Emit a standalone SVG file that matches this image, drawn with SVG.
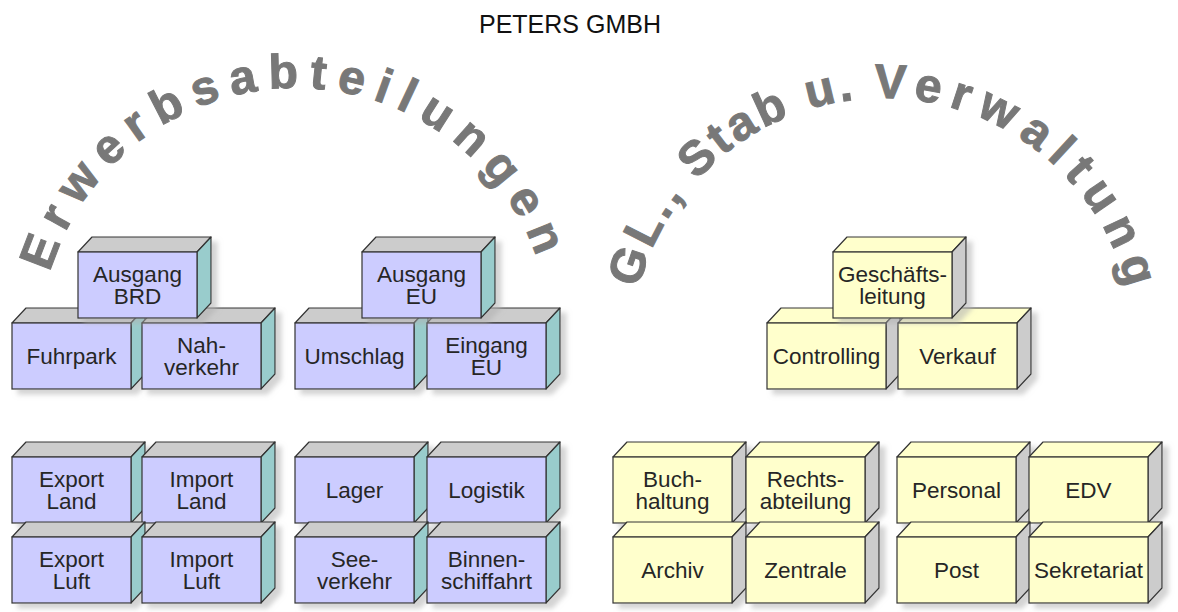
<svg xmlns="http://www.w3.org/2000/svg" width="1178" height="612" viewBox="0 0 1178 612">
<style>
.fp{fill:#ccccff;stroke:#333;stroke-width:1.2}
.tp{fill:#cccccc;stroke:#333;stroke-width:1.2;stroke-linejoin:round}
.sp{fill:#99cccc;stroke:#333;stroke-width:1.2;stroke-linejoin:round}
.fy{fill:#ffffcc;stroke:#333;stroke-width:1.2}
.ty{fill:#ffffcc;stroke:#333;stroke-width:1.2;stroke-linejoin:round}
.sy{fill:#cccccc;stroke:#333;stroke-width:1.2;stroke-linejoin:round}
.lbl{font-family:"Liberation Sans",Arial,sans-serif;font-size:22.5px;fill:#262626;text-anchor:middle}
.arc{font-family:"Liberation Sans",Arial,sans-serif;font-weight:bold;font-size:48px;fill:#787878;stroke:#787878;stroke-width:1}
.title{font-family:"Liberation Sans",Arial,sans-serif;font-size:25px;fill:#111;text-anchor:middle}
</style>
<defs>
<filter id="sh" x="-10%" y="-10%" width="130%" height="140%">
<feDropShadow dx="6" dy="5" stdDeviation="2.5" flood-color="#b0b0b0" flood-opacity="0.55"/>
</filter>
<g id="boxP" filter="url(#sh)">
<polygon class="tp" points="0,0 14,-15 133,-15 119,0"/>
<polygon class="sp" points="119,0 133,-15 133,51 119,66"/>
<rect class="fp" x="0" y="0" width="119" height="66"/>
</g>
<g id="boxY" filter="url(#sh)">
<polygon class="ty" points="0,0 14,-15 133,-15 119,0"/>
<polygon class="sy" points="119,0 133,-15 133,51 119,66"/>
<rect class="fy" x="0" y="0" width="119" height="66"/>
</g>
<path id="arc1" d="M 43.9 388.5 A 256 256 0 1 1 548.1 388.5"/>
<path id="arc2" d="M 634.8 393.8 A 252 252 0 1 1 1131.2 393.8"/>
</defs>
<rect width="1178" height="612" fill="#fff"/>
<text class="title" x="570" y="33">PETERS GMBH</text>
<g id="arc-labels">
<text class="arc" letter-spacing="10.8"><textPath href="#arc1" startOffset="117">Erwerbsabteilungen</textPath></text>
<text class="arc"><textPath href="#arc2" startOffset="106"><tspan letter-spacing="3.4">GL., Stab u. </tspan><tspan letter-spacing="9.5">Verwaltung</tspan></textPath></text>
</g>
<g id="connectors"></g>
<g id="n-fuhrpark" transform="translate(12,323)"><use href="#boxP"/><text class="lbl" x="59.5" y="41">Fuhrpark</text></g>
<g id="n-nahverkehr" transform="translate(142,323)"><use href="#boxP"/><text class="lbl" x="59.5" y="30">Nah-</text><text class="lbl" x="59.5" y="52">verkehr</text></g>
<g id="n-ausgang-brd" transform="translate(78,252)"><use href="#boxP"/><text class="lbl" x="59.5" y="30">Ausgang</text><text class="lbl" x="59.5" y="52">BRD</text></g>
<g id="n-umschlag" transform="translate(295,323)"><use href="#boxP"/><text class="lbl" x="59.5" y="41">Umschlag</text></g>
<g id="n-eingang-eu" transform="translate(427,323)"><use href="#boxP"/><text class="lbl" x="59.5" y="30">Eingang</text><text class="lbl" x="59.5" y="52">EU</text></g>
<g id="n-ausgang-eu" transform="translate(362,252)"><use href="#boxP"/><text class="lbl" x="59.5" y="30">Ausgang</text><text class="lbl" x="59.5" y="52">EU</text></g>
<g id="n-export-land" transform="translate(12,457)"><use href="#boxP"/><text class="lbl" x="59.5" y="30">Export</text><text class="lbl" x="59.5" y="52">Land</text></g>
<g id="n-import-land" transform="translate(142,457)"><use href="#boxP"/><text class="lbl" x="59.5" y="30">Import</text><text class="lbl" x="59.5" y="52">Land</text></g>
<g id="n-lager" transform="translate(295,457)"><use href="#boxP"/><text class="lbl" x="59.5" y="41">Lager</text></g>
<g id="n-logistik" transform="translate(427,457)"><use href="#boxP"/><text class="lbl" x="59.5" y="41">Logistik</text></g>
<g id="n-export-luft" transform="translate(12,537)"><use href="#boxP"/><text class="lbl" x="59.5" y="30">Export</text><text class="lbl" x="59.5" y="52">Luft</text></g>
<g id="n-import-luft" transform="translate(142,537)"><use href="#boxP"/><text class="lbl" x="59.5" y="30">Import</text><text class="lbl" x="59.5" y="52">Luft</text></g>
<g id="n-seeverkehr" transform="translate(295,537)"><use href="#boxP"/><text class="lbl" x="59.5" y="30">See-</text><text class="lbl" x="59.5" y="52">verkehr</text></g>
<g id="n-binnenschiffahrt" transform="translate(427,537)"><use href="#boxP"/><text class="lbl" x="59.5" y="30">Binnen-</text><text class="lbl" x="59.5" y="52">schiffahrt</text></g>
<g id="n-controlling" transform="translate(767,323)"><use href="#boxY"/><text class="lbl" x="59.5" y="41">Controlling</text></g>
<g id="n-verkauf" transform="translate(898,323)"><use href="#boxY"/><text class="lbl" x="59.5" y="41">Verkauf</text></g>
<g id="n-geschaeftsleitung" transform="translate(833,252)"><use href="#boxY"/><text class="lbl" x="59.5" y="30">Geschäfts-</text><text class="lbl" x="59.5" y="52">leitung</text></g>
<g id="n-buchhaltung" transform="translate(613,457)"><use href="#boxY"/><text class="lbl" x="59.5" y="30">Buch-</text><text class="lbl" x="59.5" y="52">haltung</text></g>
<g id="n-rechtsabteilung" transform="translate(746,457)"><use href="#boxY"/><text class="lbl" x="59.5" y="30">Rechts-</text><text class="lbl" x="59.5" y="52">abteilung</text></g>
<g id="n-personal" transform="translate(897,457)"><use href="#boxY"/><text class="lbl" x="59.5" y="41">Personal</text></g>
<g id="n-edv" transform="translate(1029,457)"><use href="#boxY"/><text class="lbl" x="59.5" y="41">EDV</text></g>
<g id="n-archiv" transform="translate(613,537)"><use href="#boxY"/><text class="lbl" x="59.5" y="41">Archiv</text></g>
<g id="n-zentrale" transform="translate(746,537)"><use href="#boxY"/><text class="lbl" x="59.5" y="41">Zentrale</text></g>
<g id="n-post" transform="translate(897,537)"><use href="#boxY"/><text class="lbl" x="59.5" y="41">Post</text></g>
<g id="n-sekretariat" transform="translate(1029,537)"><use href="#boxY"/><text class="lbl" x="59.5" y="41">Sekretariat</text></g>
</svg>
